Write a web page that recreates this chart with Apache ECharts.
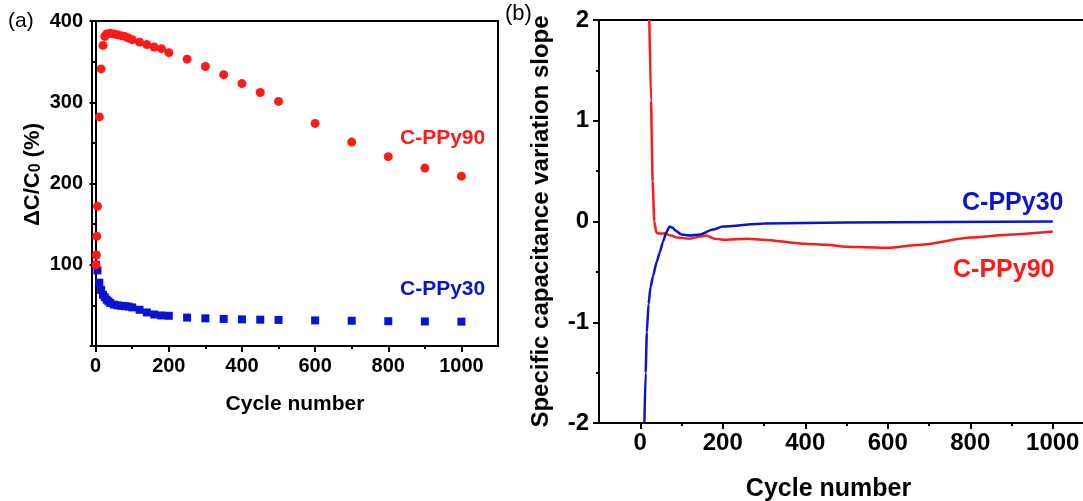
<!DOCTYPE html>
<html lang="en" style="height: 100%">
<head>
  <meta charset="utf-8">
  <script type="text/javascript" src="https://cdn.jsdelivr.net/npm/echarts@6/dist/echarts.min.js"></script>
</head>
<body style="height: 100%; margin: 0; background: #fff">
  <div id="main" style="height: 501px; width: 1083px"></div>

  <script type="text/javascript">
    // panel (a): capacitance change vs cycle
    var cycles90 = [1, 2, 3, 5, 10, 15, 20, 25, 30, 40, 50, 60, 70, 80, 90, 100, 120, 140, 160, 180, 200, 250, 300, 350, 400, 450, 500, 600, 700, 800, 900, 1000];
    var ratio90 = [100, 112, 135, 172, 282, 341, 370, 381, 384, 385, 384, 383, 382, 381, 379, 377, 374, 371, 368, 366, 361, 353, 344, 334, 323, 312, 301, 274, 251, 233, 219, 209];

    var cycles30 = [1, 5, 10, 15, 20, 25, 30, 35, 40, 50, 60, 70, 80, 90, 100, 120, 140, 160, 180, 200, 250, 300, 350, 400, 450, 500, 600, 700, 800, 900, 1000];
    var ratio30 = [100, 93, 78, 69, 63, 60, 57, 55, 53, 51, 50, 49.5, 49, 48.5, 47.5, 44.6, 41.3, 38.8, 37.6, 37.2, 35, 34, 33.3, 32.8, 32.4, 32.1, 31.5, 31.1, 30.5, 30.2, 30];

    // panel (b): slope curves
    var slopeX90 = [22, 26, 30, 34, 39, 45, 60, 75, 90, 120, 145, 160, 180, 200, 260, 300, 400, 450, 500, 600, 680, 800, 900, 1000];
    var slopeY90 = [2.0, 1.2, 0.4, 0.0, -0.11, -0.12, -0.12, -0.14, -0.16, -0.17, -0.15, -0.14, -0.17, -0.18, -0.17, -0.18, -0.22, -0.23, -0.25, -0.26, -0.23, -0.16, -0.13, -0.10];

    var slopeX30 = [10, 13, 16, 20, 25, 31, 40, 47, 55, 63, 71, 78, 85, 100, 120, 144, 176, 200, 300, 500, 1000];
    var slopeY30 = [-2.0, -1.5, -1.1, -0.82, -0.65, -0.54, -0.40, -0.31, -0.20, -0.11, -0.05, -0.06, -0.09, -0.13, -0.14, -0.13, -0.08, -0.05, -0.02, -0.01, 0];

    var majorX = [0, 200, 400, 600, 800, 1000];
    var minorX = [100, 300, 500, 700, 900];

    var red = '#ff1a1a';
    var blue = '#0a14d0';
    var font = 'Liberation Sans, Arial, sans-serif';

    function zip(xs, ys) {
      var out = [];
      for (var i = 0; i < xs.length; i++) out.push([xs[i], ys[i]]);
      return out;
    }

    function mainX(grid, min, max, fs, margin, name, gap, pad) {
      return {
        type: 'value', gridIndex: grid, min: min, max: max, position: 'bottom',
        axisLine: { show: true, onZero: false, lineStyle: { color: '#000', width: 2 } },
        axisTick: { show: true, customValues: majorX, length: 6, lineStyle: { color: '#000', width: 2 } },
        axisLabel: { customValues: majorX, margin: margin, color: '#000', fontSize: fs, fontWeight: 'bold', fontFamily: font,
          formatter: function (v) { return String(v); } },
        splitLine: { show: false },
        name: name, nameLocation: 'middle', nameGap: gap,
        nameTextStyle: { color: '#000', fontSize: fs + 1, fontWeight: 'bold', fontFamily: font, padding: pad }
      };
    }
    function minorAxis(grid, min, max) {
      return {
        type: 'value', gridIndex: grid, min: min, max: max, position: 'bottom',
        axisLine: { show: false, onZero: false },
        axisTick: { show: true, customValues: minorX, length: 3, lineStyle: { color: '#000', width: 2 } },
        axisLabel: { show: false },
        splitLine: { show: false }
      };
    }

    var chart = echarts.init(document.getElementById('main'));
    var option = {
      animation: false,
      backgroundColor: '#fff',
      grid: [
        { left: 92, top: 21, width: 406, height: 325, show: true, borderColor: '#000', borderWidth: 2, outerBoundsMode: 'none' },
        { left: 599, top: 20, width: 495, height: 403, show: true, borderColor: '#000', borderWidth: 2, outerBoundsMode: 'none' }
      ],
      xAxis: [
        mainX(0, -10, 1100, 20, 10, 'Cycle number', 48, [0, 0, 0, 0]),
        minorAxis(0, -10, 1100),
        mainX(1, -100, 1100, 24, 8, 'Cycle number', 54, [0, 36, 0, 0]),
        minorAxis(1, -100, 1100)
      ],
      yAxis: [
        {
          type: 'value', gridIndex: 0, min: 0, max: 400, interval: 100,
          axisLine: { show: true, lineStyle: { color: '#000', width: 2 } },
          axisTick: { show: true, length: 6, lineStyle: { color: '#000', width: 2 } },
          minorTick: { show: true, splitNumber: 2, length: 3, lineStyle: { color: '#000', width: 2 } },
          axisLabel: { margin: 9, color: '#000', fontSize: 20, fontWeight: 'bold', fontFamily: font,
            formatter: function (v) { return v === 0 ? '' : String(v); } },
          splitLine: { show: false },
          name: '{a|ΔC/C}{s|0}{a| (%)}', nameLocation: 'middle', nameGap: 48, nameRotate: 90,
          nameTextStyle: {
            padding: [0, 0, 0, 18],
            rich: {
              a: { color: '#000', fontSize: 22, fontWeight: 'bold', fontFamily: font, lineHeight: 27, verticalAlign: 'bottom' },
              s: { color: '#000', fontSize: 16, fontWeight: 'bold', fontFamily: font, lineHeight: 21, verticalAlign: 'bottom' }
            }
          }
        },
        {
          type: 'value', gridIndex: 1, min: -2, max: 2, interval: 1,
          axisLine: { show: true, onZero: false, lineStyle: { color: '#000', width: 2 } },
          axisTick: { show: true, length: 6, lineStyle: { color: '#000', width: 2 } },
          minorTick: { show: true, splitNumber: 2, length: 3, lineStyle: { color: '#000', width: 2 } },
          axisLabel: { margin: 10, color: '#000', fontSize: 24, fontWeight: 'bold', fontFamily: font },
          splitLine: { show: false },
          name: 'Specific capacitance variation slope', nameLocation: 'middle', nameGap: 46, nameRotate: 90,
          nameTextStyle: { color: '#000', fontSize: 24, fontWeight: 'bold', fontFamily: font }
        }
      ],
      series: [
        {
          type: 'scatter', xAxisIndex: 0, yAxisIndex: 0, symbol: 'rect', symbolSize: 8,
          itemStyle: { color: blue, opacity: 1 }, data: zip(cycles30, ratio30)
        },
        {
          type: 'scatter', xAxisIndex: 0, yAxisIndex: 0, symbol: 'circle', symbolSize: 9,
          itemStyle: { color: red, opacity: 1 }, data: zip(cycles90, ratio90)
        },
        {
          type: 'line', xAxisIndex: 2, yAxisIndex: 1, showSymbol: false, smooth: 0.2, smoothMonotone: 'x',
          lineStyle: { color: red, width: 2.5 }, data: zip(slopeX90, slopeY90)
        },
        {
          type: 'line', xAxisIndex: 2, yAxisIndex: 1, showSymbol: false, smooth: 0.2, smoothMonotone: 'x',
          lineStyle: { color: blue, width: 2.5 }, data: zip(slopeX30, slopeY30)
        }
      ],
      graphic: [
        { type: 'text', left: 8, top: 11, style: { text: '(a)', fill: '#000', font: '21px ' + font } },
        { type: 'text', left: 505, top: 3, style: { text: '(b)', fill: '#000', font: '22px ' + font } },
        { type: 'text', left: 400, top: 128, style: { text: 'C-PPy90', fill: red, font: 'bold 21px ' + font } },
        { type: 'text', left: 400, top: 279, style: { text: 'C-PPy30', fill: blue, font: 'bold 21px ' + font } },
        { type: 'text', left: 962, top: 191, style: { text: 'C-PPy30', fill: blue, font: 'bold 25px ' + font } },
        { type: 'text', left: 953, top: 258, style: { text: 'C-PPy90', fill: red, font: 'bold 25px ' + font } }
      ]
    };
    chart.setOption(option);
  </script>
</body>
</html>
